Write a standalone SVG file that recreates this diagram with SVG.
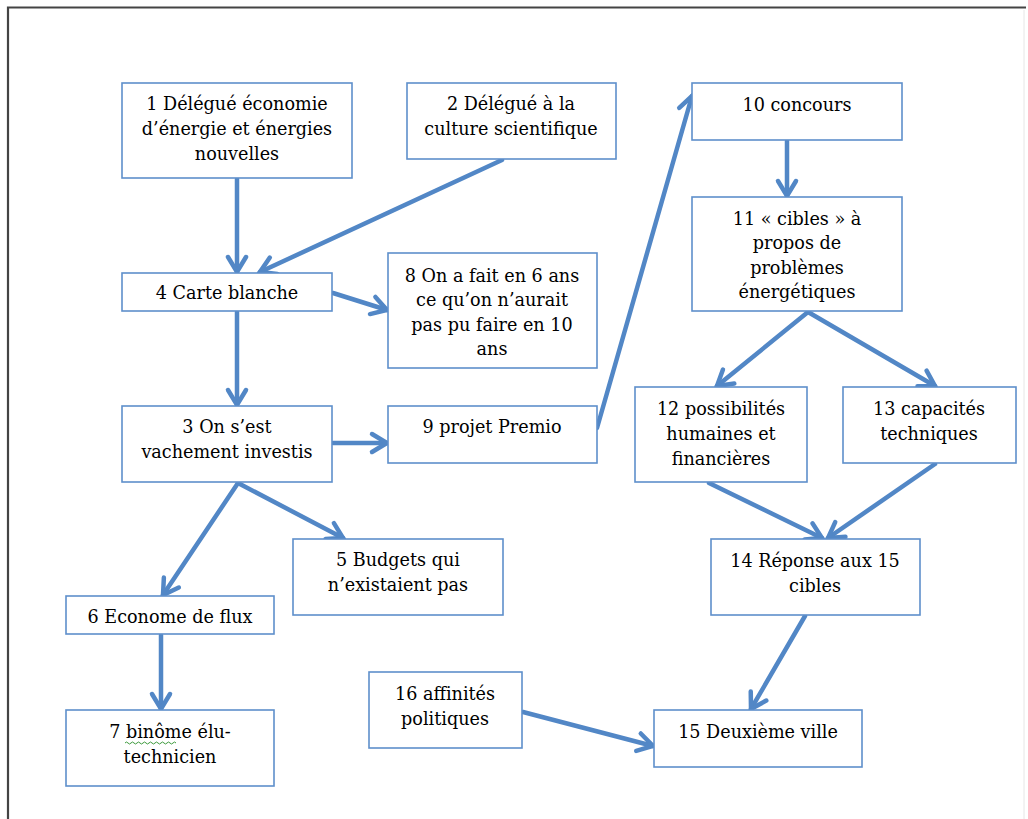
<svg xmlns="http://www.w3.org/2000/svg" width="1028" height="819" viewBox="0 0 1028 819">
<defs>
<style>
.box{fill:#fff;stroke:#5e8fcb;stroke-width:1.6}
.t{font-family:"DejaVu Serif","Liberation Serif",serif;font-size:17.6px;fill:#000;text-anchor:middle}
.e{fill:none;stroke:#5287c6;stroke-width:4.5;stroke-linecap:round}
</style>
<marker id="ah" markerUnits="userSpaceOnUse" markerWidth="24" markerHeight="24" refX="19" refY="12" orient="auto" overflow="visible">
<path d="M4,3 L19,12 L4,21" fill="none" stroke="#5287c6" stroke-width="4.5" stroke-linecap="round" stroke-linejoin="miter"/>
</marker>
</defs>
<rect width="1028" height="819" fill="#fff"/>
<path d="M8,819 V7.5 H1026" fill="none" stroke="#444" stroke-width="2.2"/>
<line x1="1024" y1="10" x2="1024" y2="819" stroke="#e6e6e6" stroke-width="1"/>

<g id="connectors">
<line class="e" x1="237" y1="179" x2="237" y2="272" marker-end="url(#ah)"/>
<line class="e" x1="502" y1="160" x2="260" y2="272" marker-end="url(#ah)"/>
<line class="e" x1="333" y1="293" x2="387" y2="310" marker-end="url(#ah)"/>
<line class="e" x1="237" y1="312" x2="237" y2="405" marker-end="url(#ah)"/>
<line class="e" x1="333" y1="443" x2="387" y2="443" marker-end="url(#ah)"/>
<line class="e" x1="597" y1="428" x2="692" y2="96" marker-end="url(#ah)"/>
<line class="e" x1="787" y1="141" x2="787" y2="196" marker-end="url(#ah)"/>
<line class="e" x1="808" y1="312" x2="717" y2="386" marker-end="url(#ah)"/>
<line class="e" x1="808" y1="312" x2="935" y2="386" marker-end="url(#ah)"/>
<line class="e" x1="709" y1="483" x2="822" y2="538" marker-end="url(#ah)"/>
<line class="e" x1="935" y1="464" x2="828" y2="538" marker-end="url(#ah)"/>
<line class="e" x1="805" y1="616" x2="751" y2="709" marker-end="url(#ah)"/>
<line class="e" x1="523" y1="712" x2="653" y2="746" marker-end="url(#ah)"/>
<line class="e" x1="238" y1="483" x2="163" y2="595" marker-end="url(#ah)"/>
<line class="e" x1="238" y1="483" x2="343" y2="538" marker-end="url(#ah)"/>
<line class="e" x1="161" y1="635" x2="161" y2="709" marker-end="url(#ah)"/>
</g>

<g id="n1"><rect class="box" x="122" y="83" width="230" height="95"/>
<text class="t" x="237" y="110">1 Délégué économie</text>
<text class="t" x="237" y="135">d’énergie et énergies</text>
<text class="t" x="237" y="160">nouvelles</text></g>

<g id="n2"><rect class="box" x="407" y="83" width="209" height="76"/>
<text class="t" x="511" y="110">2 Délégué à la</text>
<text class="t" x="511" y="135">culture scientifique</text></g>

<g id="n4"><rect class="box" x="122" y="273" width="210" height="38"/>
<text class="t" x="227" y="299">4 Carte blanche</text></g>

<g id="n8"><rect class="box" x="388" y="253" width="209" height="115"/>
<text class="t" x="492" y="282">8 On a fait en 6 ans</text>
<text class="t" x="492" y="306">ce qu’on n’aurait</text>
<text class="t" x="492" y="331">pas pu faire en 10</text>
<text class="t" x="492" y="355">ans</text></g>

<g id="n10"><rect class="box" x="692" y="83" width="210" height="57"/>
<text class="t" x="797" y="111">10 concours</text></g>

<g id="n11"><rect class="box" x="692" y="197" width="210" height="114"/>
<text class="t" x="797" y="225">11 « cibles » à</text>
<text class="t" x="797" y="249">propos de</text>
<text class="t" x="797" y="274">problèmes</text>
<text class="t" x="797" y="298">énergétiques</text></g>

<g id="n12"><rect class="box" x="635" y="387" width="172" height="95"/>
<text class="t" x="721" y="415">12 possibilités</text>
<text class="t" x="721" y="440">humaines et</text>
<text class="t" x="721" y="465">financières</text></g>

<g id="n13"><rect class="box" x="843" y="387" width="173" height="76"/>
<text class="t" x="929" y="415">13 capacités</text>
<text class="t" x="929" y="440">techniques</text></g>

<g id="n3"><rect class="box" x="122" y="406" width="210" height="76"/>
<text class="t" x="227" y="433">3 On s’est</text>
<text class="t" x="227" y="458">vachement investis</text></g>

<g id="n9"><rect class="box" x="388" y="406" width="209" height="57"/>
<text class="t" x="492" y="433">9 projet Premio</text></g>

<g id="n5"><rect class="box" x="293" y="539" width="210" height="76"/>
<text class="t" x="398" y="566">5 Budgets qui</text>
<text class="t" x="398" y="591">n’existaient pas</text></g>

<g id="n6"><rect class="box" x="66" y="596" width="208" height="38"/>
<text class="t" x="170" y="623">6 Econome de flux</text></g>

<g id="n7"><rect class="box" x="66" y="710" width="208" height="76"/>
<text class="t" x="170" y="738">7 binôme élu-</text>
<text class="t" x="170" y="763">technicien</text>
<path d="M125,743 q1.5,-2 3,0 t3,0 t3,0 t3,0 t3,0 t3,0 t3,0 t3,0 t3,0 t3,0 t3,0 t3,0 t3,0 t3,0 t3,0 t3,0 t3,0" fill="none" stroke="#3c9a3c" stroke-width="1"/></g>

<g id="n16"><rect class="box" x="369" y="672" width="153" height="76"/>
<text class="t" x="445" y="700">16 affinités</text>
<text class="t" x="445" y="725">politiques</text></g>

<g id="n14"><rect class="box" x="711" y="539" width="209" height="76"/>
<text class="t" x="815" y="567">14 Réponse aux 15</text>
<text class="t" x="815" y="592">cibles</text></g>

<g id="n15"><rect class="box" x="654" y="710" width="208" height="57"/>
<text class="t" x="758" y="738">15 Deuxième ville</text></g>
</svg>
